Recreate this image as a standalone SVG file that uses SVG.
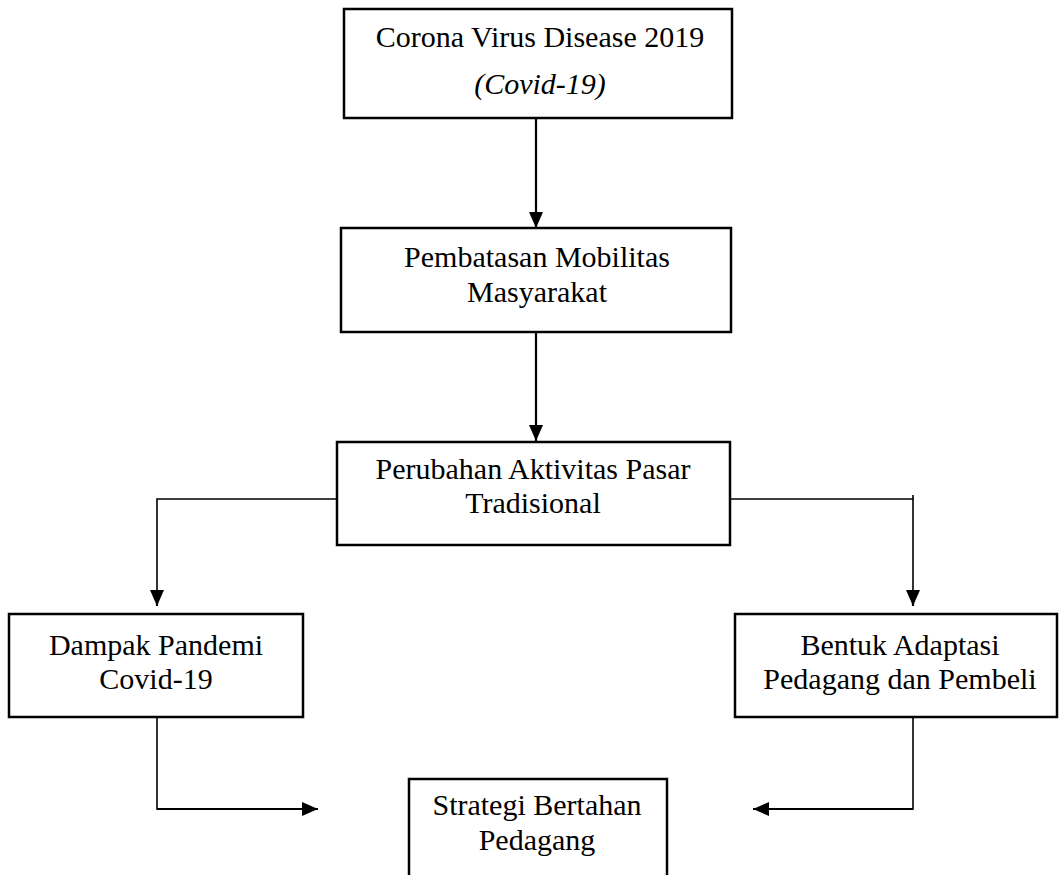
<svg xmlns="http://www.w3.org/2000/svg" width="1059" height="875" viewBox="0 0 1059 875">
  <style>
    .box { fill: #ffffff; stroke: #000000; stroke-width: 2.5; }
    .t { font-family: "Liberation Serif", "Times New Roman", serif; font-size: 30px; fill: #000000; text-anchor: middle; }
    .it { font-style: italic; }
    .c { fill: none; stroke: #000000; stroke-width: 1.6; }
    .ca { fill: none; stroke: #000000; stroke-width: 2.2; marker-end: url(#arr); }
  </style>
  <defs>
    <marker id="arr" viewBox="0 0 16 14" refX="16" refY="7" markerWidth="16" markerHeight="14" markerUnits="userSpaceOnUse" orient="auto">
      <path d="M0,0 L16,7 L0,14 Z" fill="#000000"/>
    </marker>
  </defs>
  <rect width="1059" height="875" fill="#ffffff"/>

  <g id="connectors">
    <line class="ca" x1="536" y1="118" x2="536" y2="228"/>
    <line class="ca" x1="536" y1="332" x2="536" y2="441"/>
    <polyline class="c" points="337,499 157,499 157,592"/>
    <line class="ca" x1="157" y1="590" x2="157" y2="606"/>
    <polyline class="c" points="730,499 913,499 913,592"/>
    <line class="c" x1="913" y1="495" x2="913" y2="499"/>
    <line class="ca" x1="913" y1="590" x2="913" y2="606"/>
    <polyline class="c" points="157,717 157,809 300,809"/>
    <line class="ca" x1="157" y1="809" x2="318" y2="809"/>
    <polyline class="c" points="913,717 913,809 770,809"/>
    <line class="ca" x1="913" y1="809" x2="753" y2="809"/>
  </g>

  <g id="node-covid">
    <rect class="box" x="344" y="9" width="388" height="109"/>
    <text class="t" x="540" y="47">Corona Virus Disease 2019</text>
    <text class="t it" x="540" y="94">(Covid-19)</text>
  </g>

  <g id="node-pembatasan">
    <rect class="box" x="341" y="228" width="390" height="104"/>
    <text class="t" x="537" y="267">Pembatasan Mobilitas</text>
    <text class="t" x="537" y="302">Masyarakat</text>
  </g>

  <g id="node-perubahan">
    <rect class="box" x="337" y="442" width="393" height="103"/>
    <text class="t" x="533" y="479">Perubahan Aktivitas Pasar</text>
    <text class="t" x="533" y="513">Tradisional</text>
  </g>

  <g id="node-dampak">
    <rect class="box" x="9" y="614" width="294" height="103"/>
    <text class="t" x="156" y="655">Dampak Pandemi</text>
    <text class="t" x="156" y="689">Covid-19</text>
  </g>

  <g id="node-adaptasi">
    <rect class="box" x="735" y="614" width="322" height="103"/>
    <text class="t" x="900" y="655">Bentuk Adaptasi</text>
    <text class="t" x="900" y="689">Pedagang dan Pembeli</text>
  </g>

  <g id="node-strategi">
    <rect class="box" x="409" y="779" width="258" height="110"/>
    <text class="t" x="537" y="815">Strategi Bertahan</text>
    <text class="t" x="537" y="850">Pedagang</text>
  </g>
</svg>
